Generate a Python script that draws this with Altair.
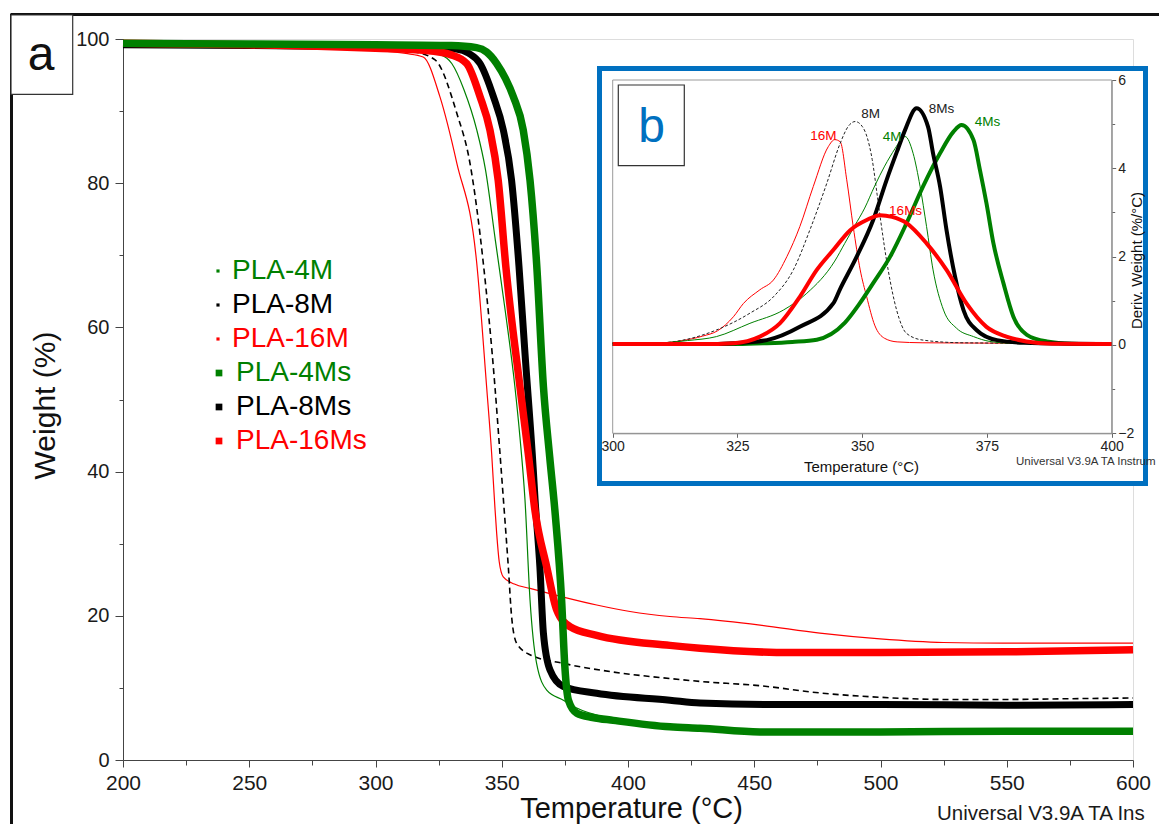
import altair as alt
import pandas as pd

# ---------------- main TGA curves: temperature (°C) -> weight (%) ----------------
series_names = ["PLA-4M", "PLA-8M", "PLA-16M", "PLA-4Ms", "PLA-8Ms", "PLA-16Ms"]
series_colors = ["#008000", "#000000", "#FF0000", "#008000", "#000000", "#FF0000"]

t_4M = [200, 250, 300, 320, 326, 330.2, 335, 340.1, 343.5, 347.5, 351.5, 355.2, 357.2, 359.2, 361.2, 363.8, 367.8, 374.4, 379.7, 394.2, 416.6, 450, 500, 550, 600]
w_4M = [99.1, 98.9, 98.6, 98.2, 97.8, 96.6, 93.0, 87.4, 82.0, 72.0, 62.0, 51.8, 44.8, 36.1, 22.2, 13.4, 9.7, 8.3, 7.2, 5.7, 4.8, 4.1, 4.0, 4.0, 4.0]
t_8M = [200, 250, 300, 315, 323.6, 332.2, 337.4, 342.7, 347.3, 349.3, 351.0, 352.6, 353.9, 355.9, 361.2, 374.4, 394.2, 416.6, 428.5, 452.3, 476, 499.8, 524.9, 548.6, 575, 600]
w_8M = [99.0, 98.9, 98.5, 98.2, 97.1, 89.7, 82.8, 68.9, 51.8, 42.5, 34.5, 26.8, 19.9, 16.2, 14.6, 13.4, 12.2, 11.3, 10.9, 10.3, 9.3, 8.7, 8.4, 8.4, 8.5, 8.6]
t_16M = [200, 250, 300, 312, 318.9, 325.5, 332.2, 340.1, 344.0, 346.0, 347.3, 348.0, 349.0, 350.6, 355, 361.2, 374.4, 387.6, 400.8, 416.6, 428.5, 452.3, 476, 499.8, 524.9, 548.6, 575, 600]
w_16M = [99.1, 98.9, 98.4, 98.0, 97.5, 92.0, 82.8, 68.9, 51.8, 42.5, 35.0, 31.4, 27.5, 25.4, 24.4, 23.8, 22.6, 21.5, 20.6, 19.9, 19.6, 18.7, 17.6, 16.8, 16.3, 16.2, 16.2, 16.2]
t_4Ms = [200, 250, 300, 330, 340, 344, 348, 351.5, 354.6, 358.5, 361.2, 363.8, 366.5, 369, 371.2, 373.7, 375.0, 376.4, 379.7, 386, 394.2, 416.6, 428.5, 452.3, 500, 550, 600]
w_4Ms = [99.4, 99.3, 99.2, 99.1, 98.8, 98.2, 96.6, 94.5, 92.0, 87.4, 80.4, 68.9, 51.8, 42.0, 34.0, 22.2, 12.9, 8.3, 6.5, 5.9, 5.5, 4.6, 4.4, 3.9, 3.9, 4.0, 4.0]
t_8Ms = [200, 250, 300, 320, 332, 337, 341.4, 346.7, 350.6, 353.9, 356.8, 359.2, 362.5, 363.2, 365.1, 366.5, 369.1, 374.4, 387.6, 416.6, 428.5, 460, 500, 550, 600]
w_8Ms = [99.2, 99.1, 98.9, 98.8, 98.6, 98.0, 96.6, 92.0, 87.4, 80.4, 68.6, 56.4, 40.2, 36.1, 26.8, 17.6, 12.5, 10.2, 9.25, 8.3, 7.9, 7.7, 7.7, 7.6, 7.7]
t_16Ms = [200, 250, 300, 320, 330, 336.1, 341.4, 345.3, 348.6, 351.6, 357.2, 360.5, 363.2, 367.8, 371.8, 377.0, 387.6, 416.6, 428.5, 464.2, 500, 550, 600]
w_16Ms = [99.4, 99.2, 98.7, 98.4, 97.8, 96.6, 92.0, 87.4, 80.4, 68.5, 51.8, 42.5, 34.5, 26.8, 20.8, 18.5, 17.3, 15.9, 15.5, 14.9, 14.9, 15.0, 15.3]

x_ticks = list(range(200, 601, 25))
y_ticks = list(range(0, 101, 5))

# ---------------- inset DTG curves: temperature (°C) -> deriv. weight (%/°C) ----------------
d_t_4M = [300, 310, 315, 320.8, 327.5, 334.2, 338.9, 344.5, 346.5, 348.5, 350.5, 352.5, 354.5, 356.6, 357.6, 358.6, 360.2, 361.6, 362.9, 364.2, 366.3, 368.9, 372.3, 375.6, 380, 400]
d_v_4M = [0.03, 0.05, 0.1, 0.19, 0.49, 0.79, 1.17, 1.9, 2.3, 2.7, 3.1, 3.6, 4.05, 4.45, 4.62, 4.72, 4.34, 3.59, 2.68, 1.7, 0.79, 0.38, 0.19, 0.08, 0.04, 0.03]
d_t_8M = [300, 310, 314.1, 320.8, 327.5, 332.2, 336.2, 339.5, 342.9, 345.6, 347.2, 348.6, 350.0, 351.0, 352.0, 353.0, 353.6, 355.2, 356.9, 358.9, 362.2, 370, 400]
d_v_8M = [0.03, 0.05, 0.11, 0.34, 0.72, 1.09, 1.7, 2.6, 3.66, 4.57, 4.95, 5.06, 4.95, 4.7, 4.2, 3.4, 2.9, 1.7, 0.79, 0.26, 0.11, 0.05, 0.03]
d_t_16M = [300, 310, 314, 318, 321, 324.2, 326.2, 329.5, 332.2, 334.9, 337.5, 340.2, 343.2, 344.5, 345.6, 346.9, 348.2, 349.6, 350.9, 352.5, 354.5, 357, 362, 380, 400]
d_v_16M = [0.03, 0.05, 0.1, 0.2, 0.32, 0.64, 0.94, 1.25, 1.47, 2.0, 2.68, 3.59, 4.49, 4.65, 4.6, 3.74, 2.68, 1.7, 1.09, 0.45, 0.15, 0.07, 0.05, 0.04, 0.03]
d_t_4Ms = [300, 325, 330.9, 336, 340.9, 346.5, 349.5, 352.2, 355.6, 358.9, 362.2, 365.6, 368.3, 369.9, 372.3, 373.6, 374.9, 376.3, 378.3, 380.3, 383, 387, 392, 400]
d_v_4Ms = [0.02, 0.02, 0.04, 0.07, 0.12, 0.5, 0.94, 1.4, 2.0, 2.76, 3.59, 4.34, 4.83, 4.98, 4.64, 3.96, 3.21, 2.3, 1.4, 0.64, 0.23, 0.08, 0.03, 0.02]
d_t_8Ms = [300, 318, 324.2, 330.9, 337.5, 344.2, 345.5, 348.9, 352.2, 354.9, 357.2, 358.6, 360.9, 363.2, 364.2, 365.6, 366.9, 368.6, 370.3, 372.9, 377, 382.4, 400]
d_v_8Ms = [0.02, 0.02, 0.04, 0.11, 0.41, 0.94, 1.25, 2.0, 2.83, 3.74, 4.45, 4.87, 5.36, 4.94, 4.34, 3.59, 2.6, 1.55, 0.79, 0.34, 0.11, 0.05, 0.02]
d_t_16Ms = [300, 318, 324.2, 329.5, 333.5, 337.5, 340.9, 344.2, 347.6, 350.9, 353.6, 356, 358.9, 362.9, 366.9, 370.9, 374.9, 378.9, 382.9, 388, 400]
d_v_16Ms = [0.02, 0.02, 0.04, 0.19, 0.49, 1.09, 1.7, 2.15, 2.6, 2.83, 2.94, 2.9, 2.76, 2.3, 1.7, 0.94, 0.41, 0.19, 0.08, 0.03, 0.02]

inset_x_ticks = [300, 325, 350, 375, 400]
inset_y_ticks = list(range(-2, 7))

inset_labels = ["16M", "8M", "8Ms", "4M", "4Ms", "16Ms"]
inset_label_colors = ["#FF0000", "#222222", "#222222", "#008000", "#008000", "#FF0000"]
inset_label_t = [342.2, 351.7, 365.9, 356.0, 375.1, 358.7]
inset_label_v = [4.74, 5.23, 5.34, 4.72, 5.04, 3.04]

# ---------------- layout constants ----------------
W, H = 1010, 721
FONT = "Liberation Sans"


def px_x(px):  # page pixel -> main temperature
    return 200 + (px - 123) / W * 400


def px_y(py):  # page pixel -> main weight
    return (760 - py) / H * 100


main_series = {
    "PLA-4M": (t_4M, w_4M), "PLA-8M": (t_8M, w_8M), "PLA-16M": (t_16M, w_16M),
    "PLA-4Ms": (t_4Ms, w_4Ms), "PLA-8Ms": (t_8Ms, w_8Ms), "PLA-16Ms": (t_16Ms, w_16Ms),
}
rows = []
for name, (ts, ws) in main_series.items():
    for i, (t, w) in enumerate(zip(ts, ws)):
        rows.append({"s": name, "i": i, "T": t, "W": w})
df_main = pd.DataFrame(rows)

inset_series = {
    "4M": (d_t_4M, d_v_4M), "8M": (d_t_8M, d_v_8M), "16M": (d_t_16M, d_v_16M),
    "4Ms": (d_t_4Ms, d_v_4Ms), "8Ms": (d_t_8Ms, d_v_8Ms), "16Ms": (d_t_16Ms, d_v_16Ms),
}
rows = []
for name, (ts, vs) in inset_series.items():
    for i, (t, v) in enumerate(zip(ts, vs)):
        rows.append({"s": name, "i": i, "T2": t, "D": v})
df_inset = pd.DataFrame(rows)

dummy = pd.DataFrame({"k": [0]})

# ---------------- main encodings ----------------
x_main = alt.X(
    "T:Q",
    scale=alt.Scale(domain=[200, 600], nice=False, zero=False),
    axis=alt.Axis(
        values=x_ticks, format="d", labelExpr="datum.value % 50 === 0 ? datum.label : ''",
        tickSize={"condition": {"test": "datum.value % 50 === 0", "value": 7}, "value": 5},
        labelFontSize=21, labelPadding=5, labelColor="#1a1a1a", labelFont=FONT,
        tickColor="#444444", domainColor="#444444", grid=False, labelOverlap=False, labelFlush=False,
        title="Temperature (°C)", titleFontSize=29, titleFontWeight="normal", titleColor="#111111",
        titleFont=FONT, titleX=508, titleY=57, titleAlign="center", titleBaseline="alphabetic",
    ),
)
y_main = alt.Y(
    "W:Q",
    scale=alt.Scale(domain=[0, 100], nice=False, zero=False),
    axis=alt.Axis(
        values=y_ticks, format="d", labelExpr="datum.value % 20 === 0 ? datum.label : ''",
        tickSize={"condition": {"test": "datum.value % 20 === 0", "value": 8}, "value": 4},
        labelFontSize=20, labelPadding=6, labelColor="#1a1a1a", labelFont=FONT,
        tickColor="#444444", domainColor="#444444", grid=False, labelOverlap=False, labelFlush=False,
        title="Weight (%)", titleFontSize=30, titleFontWeight="normal", titleColor="#111111",
        titleFont=FONT, titleX=-78, titleY=366, titleAngle=270, titleAlign="center", titleBaseline="middle",
    ),
)

main_base = alt.Chart(df_main)


def main_line(name, color, width, dash=None):
    kw = dict(color=color, strokeWidth=width, interpolate="monotone")
    if dash:
        kw["strokeDash"] = dash
    return main_base.transform_filter(alt.datum.s == name).mark_line(**kw).encode(
        x=x_main, y=y_main, order="i:Q")


main_lines = [
    main_line("PLA-16M", "#FF0000", 1.2),
    main_line("PLA-8M", "#000000", 1.6, [6, 4]),
    main_line("PLA-4M", "#008000", 1.2),
    main_line("PLA-8Ms", "#000000", 7),
    main_line("PLA-16Ms", "#FF0000", 7.5),
    main_line("PLA-4Ms", "#008000", 7.5),
]

# legend inside the main plot
leg_rows_px = [271, 305, 339, 373, 407, 441]
leg_df = pd.DataFrame({
    "name": series_names,
    "col": series_colors,
    "lx": [px_x(232)] * 3 + [px_x(236)] * 3,
    "mx": [px_x(218)] * 3 + [px_x(219)] * 3,
    "ly": [px_y(p) for p in leg_rows_px],
    "sz": [10, 10, 10, 45, 45, 45],
})
leg_text = alt.Chart(leg_df).mark_text(align="left", baseline="middle", fontSize=28, font=FONT).encode(
    x=alt.X("lx:Q", scale=alt.Scale(domain=[200, 600], nice=False, zero=False)),
    y=alt.Y("ly:Q", scale=alt.Scale(domain=[0, 100], nice=False, zero=False)),
    text="name:N", color=alt.Color("col:N", scale=None),
)
leg_mark = alt.Chart(leg_df).mark_square(filled=True, opacity=1).encode(
    x=alt.X("mx:Q", scale=alt.Scale(domain=[200, 600], nice=False, zero=False)),
    y=alt.Y("ly:Q", scale=alt.Scale(domain=[0, 100], nice=False, zero=False)),
    color=alt.Color("col:N", scale=None), size=alt.Size("sz:Q", scale=None),
)

deco = alt.Chart(dummy)
outer_top = deco.mark_rule(color="#111111", strokeWidth=3).encode(
    x=alt.value(-112), x2=alt.value(1040), y=alt.value(-24.5))
outer_left = deco.mark_rule(color="#111111", strokeWidth=3).encode(
    x=alt.value(-111.5), y=alt.value(-25.5), y2=alt.value(800))
a_box = deco.mark_rect(fill="white", stroke="#333333", strokeWidth=1.2).encode(
    x=alt.value(-112), x2=alt.value(-50.3), y=alt.value(-24), y2=alt.value(55.3))
a_text = deco.mark_text(text="a", fontSize=48, font=FONT, align="center", baseline="alphabetic",
                        color="#111111").encode(x=alt.value(-82), y=alt.value(31))
ta_text = deco.mark_text(text="Universal V3.9A TA Ins", fontSize=20.5, font=FONT, align="left",
                         baseline="middle", color="#1a1a1a").encode(x=alt.value(814), y=alt.value(775))

main_group = alt.layer(outer_top, outer_left, *main_lines, leg_mark, leg_text, a_box, a_text, ta_text)

# ---------------- inset ----------------
x_in = alt.X(
    "T2:Q",
    scale=alt.Scale(domain=[300, 400], range=[489.7, 988.7], nice=False, zero=False),
    axis=alt.Axis(
        orient="bottom", offset=-326.7, values=inset_x_ticks, format="d", tickSize=4, labelPadding=2,
        labelFontSize=14, labelColor="#222222", labelFont=FONT, tickColor="#666666",
        domainColor="#8a8a8a", grid=False, labelFlush=False, labelOverlap=False, zindex=1,
        title="Temperature (°C)", titleFontSize=15, titleFontWeight="normal", titleColor="#111111",
        titleFont=FONT, titleX=738, titleY=33, titleAlign="center", titleBaseline="middle",
    ),
)
y_in = alt.Y(
    "D:Q",
    scale=alt.Scale(domain=[-2, 6], range=[394.3, 41], nice=False, zero=False),
    axis=alt.Axis(
        orient="right", offset=-21.3, values=inset_y_ticks, format="d",
        labelExpr="datum.value % 2 === 0 ? datum.label : ''",
        tickSize={"condition": {"test": "datum.value % 2 === 0", "value": 4}, "value": 3},
        labelPadding=2, labelFontSize=14, labelColor="#222222", labelFont=FONT, tickColor="#666666",
        domainColor="#8a8a8a", grid=False, labelFlush=False, labelOverlap=False, zindex=1,
        title="Deriv. Weight (%/°C)", titleFontSize=15, titleFontWeight="normal", titleColor="#111111",
        titleFont=FONT, titleX=25, titleY=221, titleAngle=270, titleAlign="center", titleBaseline="middle",
    ),
)

blue_box = deco.mark_rect(fill="white", stroke="#0070C0", strokeWidth=5).encode(
    x=alt.value(476.5), x2=alt.value(1022.5), y=alt.value(29.5), y2=alt.value(444.5))
inset_frame = deco.mark_rect(fill="white", stroke="#9a9a9a", strokeWidth=1).encode(
    x=alt.value(489.7), x2=alt.value(988.7), y=alt.value(41), y2=alt.value(394.3))
b_box = deco.mark_rect(fill="white", stroke="#333333", strokeWidth=1.2).encode(
    x=alt.value(495.3), x2=alt.value(561.3), y=alt.value(46), y2=alt.value(126.7))
b_text = deco.mark_text(text="b", fontSize=48, font=FONT, align="center", baseline="alphabetic",
                        color="#0070C0").encode(x=alt.value(528.7), y=alt.value(102.7))
ta_small = deco.mark_text(text="Universal V3.9A TA Instrum", fontSize=11.5, font=FONT, align="left",
                          baseline="middle", color="#333333").encode(x=alt.value(893), y=alt.value(423))

inset_base = alt.Chart(df_inset)


def inset_line(name, color, width, dash=None):
    kw = dict(color=color, strokeWidth=width, interpolate="monotone")
    if dash:
        kw["strokeDash"] = dash
    return inset_base.transform_filter(alt.datum.s == name).mark_line(**kw).encode(
        x=x_in, y=y_in, order="i:Q")


inset_lines = [
    inset_line("16M", "#FF0000", 1),
    inset_line("8M", "#222222", 1, [3, 2]),
    inset_line("4M", "#008000", 1),
    inset_line("4Ms", "#008000", 4),
    inset_line("8Ms", "#000000", 4),
    inset_line("16Ms", "#FF0000", 4),
]

lab_df = pd.DataFrame({"lab": inset_labels, "col": inset_label_colors,
                       "T2": inset_label_t, "D": inset_label_v})
inset_text = alt.Chart(lab_df).mark_text(fontSize=13.5, font=FONT, align="center", baseline="middle").encode(
    x=alt.X("T2:Q", scale=alt.Scale(domain=[300, 400], range=[489.7, 988.7], nice=False, zero=False)),
    y=alt.Y("D:Q", scale=alt.Scale(domain=[-2, 6], range=[394.3, 41], nice=False, zero=False)),
    text="lab:N", color=alt.Color("col:N", scale=None),
)

inset_group = alt.layer(blue_box, inset_frame, b_box, b_text, *inset_lines, inset_text, ta_small)

chart = (
    alt.layer(main_group, inset_group)
    .resolve_scale(x="independent", y="independent")
    .properties(
        width=W, height=H,
        autosize=alt.AutoSizeParams(type="none"),
        padding={"left": 115, "top": 31, "right": 26, "bottom": 64},
        background="white",
    )
    .configure_view(stroke="#8c8c8c", strokeWidth=1)
    .configure(font=FONT)
)

chart.save("out.html", embed_options={"renderer": "svg", "actions": False})
